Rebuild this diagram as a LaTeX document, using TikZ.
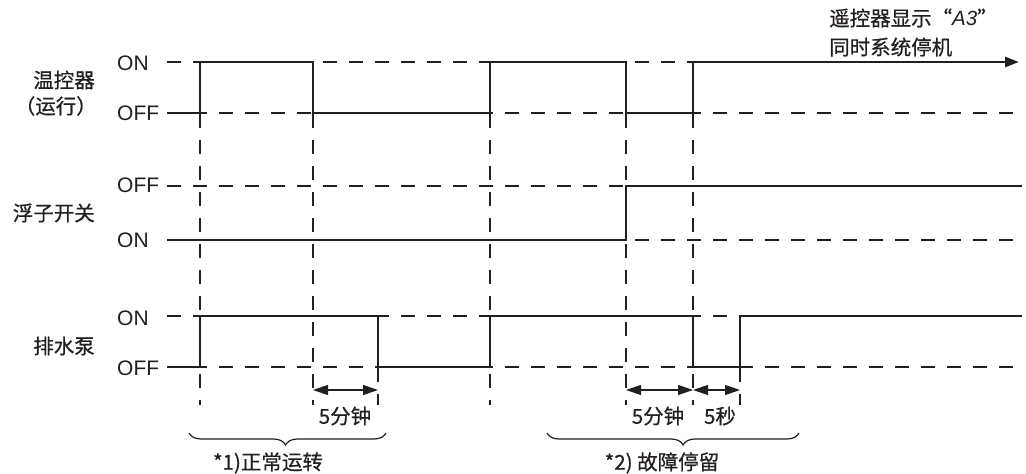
\documentclass[tikz,border=0pt]{standalone}
\usepackage{fontspec}
\setmainfont{Liberation Sans}
\newfontfamily\cjk[FakeBold=0.6]{Noto Sans CJK SC}
\usetikzlibrary{decorations.pathreplacing, arrows.meta}

\definecolor{ink}{RGB}{35,31,32}

\begin{document}
\begin{tikzpicture}[x=1pt, y=-1pt, ink,
	sig/.style={line width=2.8pt, line join=miter},
	grid/.style={line width=1.1pt, dash pattern=on 14pt off 12pt},
	dim/.style={line width=1.2pt, {Triangle[length=15pt,width=10pt]}-{Triangle[length=15pt,width=10pt]}},
	lvl/.style={anchor=west, inner sep=0pt, font=\fontsize{21}{24}\selectfont},
	lbl/.style={inner sep=0pt, font=\fontsize{20.5}{24}\selectfont\cjk},
	brc/.style={line width=1.2pt, decorate, decoration={brace, mirror, amplitude=12pt}}]
	\useasboundingbox (0,0) rectangle (1026,474);
	% vertical time marks
	\foreach \t in {200,313,490,626,693}
		\draw[grid] (\t,62) -- (\t,405);
	\foreach \t in {378,740}
		\draw[grid] (\t,316) -- (\t,405);
	% level lines
	\draw[grid] (167,62) -- (693,62);
	\draw[grid] (167,113) -- (1022,113);
	\draw[grid] (167,186) -- (1022,186);
	\draw[grid] (167,240) -- (1022,240);
	\draw[grid] (167,316) -- (1022,316);
	\draw[grid] (167,367) -- (1022,367);
	% thermostat
	\draw[sig, -{Triangle[length=14pt,width=10pt]}] (167,113) -- (200,113) -- (200,62) -- (313,62) -- (313,113)
		-- (490,113) -- (490,62) -- (626,62) -- (626,113) -- (693,113) -- (693,62) -- (1019,62);
	% float switch
	\draw[sig] (167,240) -- (626,240) -- (626,186) -- (1022,186);
	% drain pump
	\draw[sig] (167,367) -- (200,367) -- (200,316) -- (378,316) -- (378,367) -- (490,367) -- (490,316)
		-- (693,316) -- (693,367) -- (740,367) -- (740,316) -- (1022,316);
	% left labels
	\node[lbl, anchor=east] (thermo) at (95,80) {温控器};
	\node[lbl, anchor=east] (thermoRun) at (97,106) {（运行）};
	\node[lbl, anchor=east] (float) at (95,213) {浮子开关};
	\node[lbl, anchor=east] (pump) at (95,346) {排水泵};
	\node[lvl] (thermoOn) at (117,63) {ON};
	\node[lvl] (thermoOff) at (117,113) {OFF};
	\node[lvl] (floatOff) at (117,185) {OFF};
	\node[lvl] (floatOn) at (117,240) {ON};
	\node[lvl] (pumpOn) at (117,318) {ON};
	\node[lvl] (pumpOff) at (117,368) {OFF};
	% remote display
	\node[lbl, anchor=west] (remote) at (829,18) {遥控器显示“{\fontspec{Liberation Sans}\itshape A3}”};
	\node[lbl, anchor=west] (stop) at (829,47) {同时系统停机};
	% intervals
	\draw[dim] (313,390) -- (378,390);
	\draw[dim] (626,390) -- (693,390);
	\draw[dim] (693,390) -- (740,390);
	\node[lbl] (delayA) at (345,416) {5分钟};
	\node[lbl] (delayB) at (658,416) {5分钟};
	\node[lbl] (delayC) at (720,416) {5秒};
	% braces
	\draw[brc, decoration={aspect=0.49}] (189,433) -- (386,433);
	\draw[brc, decoration={aspect=0.54}] (547,433) -- (799,433);
	\node[lbl] (normal) at (268,463) {*1)正常运转};
	\node[lbl] (fault) at (662,463) {*2) 故障停留};
\end{tikzpicture}
\end{document}
